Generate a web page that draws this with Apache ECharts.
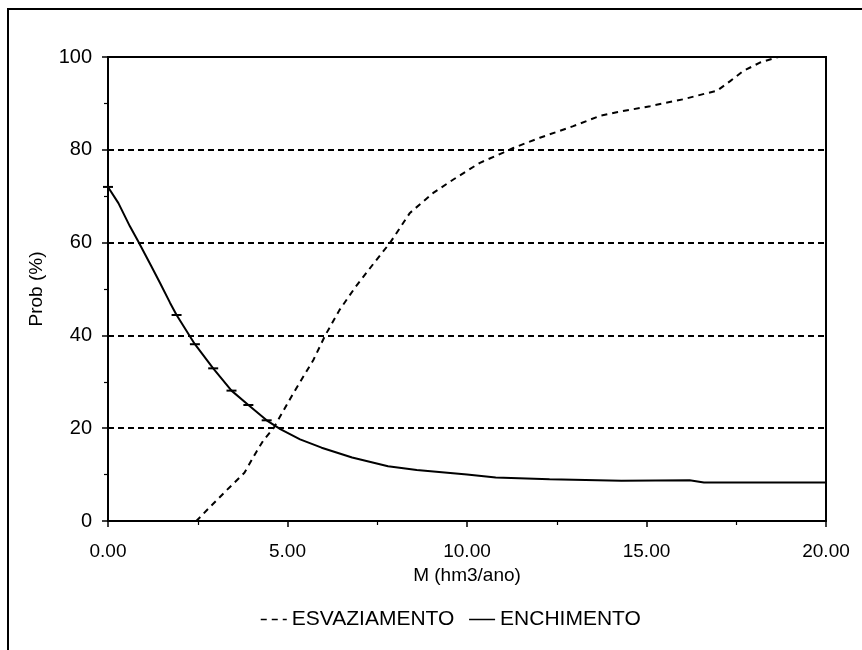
<!DOCTYPE html>
<html>
<head>
<meta charset="utf-8">
<script src="https://cdn.jsdelivr.net/npm/echarts@6/dist/echarts.min.js"></script>
<style>
  html, body { margin: 0; padding: 0; background: #fff; }
  #chart { width: 862px; height: 650px; }
</style>
</head>
<body>
<div id="chart"></div>
<script>
// Reservoir emptying / filling probability against M (hm3/ano)
const seriesNames = ['ESVAZIAMENTO', 'ENCHIMENTO'];

const esvX = [0, 2.46, 2.8, 3.3, 3.8, 4.14, 4.33, 4.61, 5.16, 5.72, 6.05, 6.45, 6.9, 7.4, 7.86,
  8.41, 9.06, 9.62, 10.36, 11.01, 11.29, 12.03, 12.96, 13.7, 14.17, 15.1, 16.03, 16.68, 16.96,
  17.33, 17.7, 18.16, 18.67, 20];
const esvY = [0, 0, 2.7, 6.6, 10.4, 15, 17.4, 20, 27.5, 34.7, 40, 45.5, 50.5, 55.5, 60,
  66.4, 70.7, 73.6, 77.2, 79.4, 80.4, 82.6, 85.1, 87.3, 88.1, 89.4, 90.9, 92.2, 92.7,
  94.8, 97, 98.8, 100, 100];

const encX = [0, 0.29, 0.61, 0.84, 1.2, 1.45, 1.73, 1.91, 2.42, 2.93, 3.44, 3.91, 4.42, 4.8,
  5.35, 5.95, 6.8, 7.8, 8.6, 10, 10.8, 12.3, 14.3, 16.2, 16.6, 20];
const encY = [72, 68.5, 63.5, 60.3, 55, 51.3, 47, 44.4, 38.1, 32.9, 28.1, 25, 21.7, 19.8,
  17.6, 15.8, 13.7, 11.8, 11, 10, 9.4, 9, 8.7, 8.8, 8.3, 8.3];
// points of the filling curve that carry a dash marker
const encMarked = [0, 7, 8, 9, 10, 11, 12];

const xTicks = { min: 0, max: 20, step: 5 };
const yTicks = { min: 0, max: 100, step: 20 };

const fontFamily = '"Liberation Sans", Arial, sans-serif';

const esvData = esvX.map((x, i) => [x, esvY[i]]);
const encData = encX.map((x, i) => {
  const item = { value: [x, encY[i]] };
  if (encMarked.includes(i)) {
    item.symbol = 'rect';
    item.symbolSize = [10, 2];
  }
  return item;
});

const chart = echarts.init(document.getElementById('chart'), null, { renderer: 'canvas' });
chart.setOption({
  animation: false,
  backgroundColor: '#ffffff',
  graphic: [{
    type: 'rect',
    shape: { x: 8, y: 9, width: 900, height: 700 },
    style: { fill: 'none', stroke: '#000', lineWidth: 2 },
    silent: true
  }],
  grid: {
    left: 108, right: 36, top: 57, bottom: 129,
    show: true, borderColor: '#000', borderWidth: 2, backgroundColor: 'transparent'
  },
  legend: {
    data: seriesNames,
    left: 255, top: 604,
    itemWidth: 26, itemHeight: 14, itemGap: 14,
    itemStyle: { opacity: 0 },
    lineStyle: { width: 1.5 },
    textStyle: { color: '#000', fontSize: 21, fontFamily: fontFamily }
  },
  xAxis: {
    type: 'value',
    min: xTicks.min, max: xTicks.max, interval: xTicks.step,
    name: 'M (hm3/ano)',
    nameLocation: 'middle', nameGap: 43,
    nameTextStyle: { color: '#000', fontSize: 19, fontFamily: fontFamily },
    axisLine: { show: true, lineStyle: { color: '#000', width: 2 } },
    axisTick: { show: true, length: 6, lineStyle: { color: '#000', width: 1.5 } },
    minorTick: { show: true, splitNumber: 2, length: 4, lineStyle: { color: '#000', width: 1.2 } },
    axisLabel: {
      color: '#000', fontSize: 19, fontFamily: fontFamily, margin: 21,
      formatter: v => v.toFixed(2)
    },
    splitLine: { show: false }
  },
  yAxis: {
    type: 'value',
    min: yTicks.min, max: yTicks.max, interval: yTicks.step,
    name: 'Prob (%)',
    nameLocation: 'middle', nameGap: 62,
    nameTextStyle: { color: '#000', fontSize: 19, fontFamily: fontFamily },
    axisLine: { show: true, lineStyle: { color: '#000', width: 2 } },
    axisTick: { show: true, length: 6, lineStyle: { color: '#000', width: 1.5 } },
    minorTick: { show: true, splitNumber: 2, length: 4, lineStyle: { color: '#000', width: 1.2 } },
    axisLabel: { color: '#000', fontSize: 20, fontFamily: fontFamily, margin: 16 },
    splitLine: { show: true, lineStyle: { color: '#000', width: 2, type: [6, 4] } }
  },
  series: [
    {
      name: seriesNames[0],
      type: 'line',
      data: esvData,
      symbol: 'none',
      smooth: false,
      lineStyle: { color: '#000', width: 2, type: [6, 5] },
      itemStyle: { color: '#000' },
      z: 3
    },
    {
      name: seriesNames[1],
      type: 'line',
      data: encData,
      symbol: 'none',
      smooth: false,
      lineStyle: { color: '#000', width: 2, type: 'solid' },
      itemStyle: { color: '#000', borderWidth: 0 },
      z: 4
    }
  ]
});
</script>
</body>
</html>
